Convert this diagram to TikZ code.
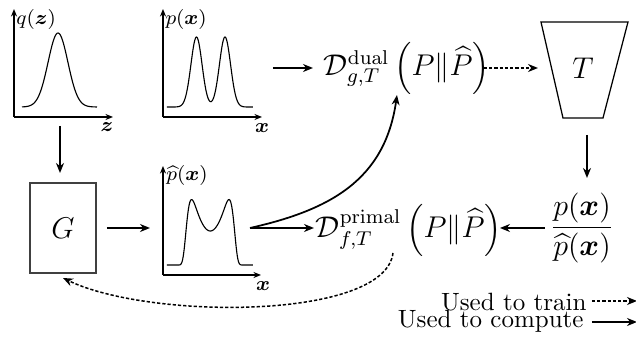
\documentclass[tikz,border=0pt]{standalone}
\usepackage{amsmath,amssymb,bm}
\usetikzlibrary{arrows.meta}
\begin{document}
\begin{tikzpicture}[x=0.4pt,y=-0.4pt,
  arr/.style={line width=0.7pt,-{Stealth[length=4pt,width=3.2pt]}},
  trainarr/.style={line width=0.6pt,dash pattern=on 1.3pt off 0.8pt,-{Stealth[length=4pt,width=3.2pt]}},
  axisarr/.style={line width=0.6pt,-{Stealth[length=3pt,width=2.4pt]}},
  curveline/.style={line width=0.45pt},
  lab/.style={font=\footnotesize,inner sep=0pt},
  bigmath/.style={font=\fontsize{11.6}{14}\selectfont,inner sep=0pt}]
\useasboundingbox (0,0) rectangle (636,339);
% ---- q(z) plot
\coordinate (qo) at (14,117);
\coordinate (qy) at (14,9);
\coordinate (qx) at (113,117);
\draw[axisarr] (qo) -- (qy);
\draw[axisarr] (qo) -- (qx);
\draw[curveline] plot[domain=22:97,samples=90] (\x,{107-74*exp(-((\x-58)^2)/196)});
\node[lab,anchor=west] (ql) at (16,20) {$q(\bm z)$};
\node[lab] (qzl) at (107,127) {$\bm z$};
% ---- p(x) plot
\coordinate (po) at (163,117);
\coordinate (py) at (163,9);
\coordinate (px) at (262,117);
\draw[axisarr] (po) -- (py);
\draw[axisarr] (po) -- (px);
\draw[curveline] plot[domain=167:253,samples=140] (\x,{107-70*exp(-((\x-196.5)^2)/62)-70*exp(-((\x-225)^2)/62)});
\node[lab,anchor=west] (pl) at (165,20) {$p(\bm x)$};
\node[lab] (pxl) at (262,128) {$\bm x$};
% ---- phat(x) plot
\coordinate (ho) at (163,275);
\coordinate (hy) at (163,166);
\coordinate (hx) at (261,275);
\draw[axisarr] (ho) -- (hy);
\draw[axisarr] (ho) -- (hx);
\draw[curveline] plot[domain=167:253,samples=160] (\x,{265-(34+41*((\x-210.3)/18.7)^2)*exp(-min((((\x-210.3)/23.99)^2)^4,50))});
\node[lab,anchor=west] (hl) at (166,176) {$\widehat{p}(\bm x)$};
\node[lab] (hxl) at (263,286) {$\bm x$};
% ---- G box
\node[draw=black!75,line width=0.45pt,minimum width=26.4pt,minimum height=36pt,inner sep=0pt,font=\large] (G) at (63,228) {$G$};
% ---- T trapezoid
\draw[line width=0.5pt] (541,22) -- (628,22) -- (603,118) -- (563,118) -- cycle;
\node[font=\large,inner sep=0pt] (T) at (583,68) {$T$};
% ---- formulas
\node[bigmath] (dual) at (407,68) {$\mathcal{D}^{\mathrm{dual}}_{g,T}\left(P\|\widehat{P}\right)$};
\node[bigmath] (primal) at (409,230) {$\mathcal{D}^{\mathrm{primal}}_{f,T}\left(P\|\widehat{P}\right)$};
\node[font=\large,inner sep=0pt] (ratio) at (582,228) {$\displaystyle\frac{p(\bm x)}{\widehat{p}(\bm x)}$};
% ---- connector end points
\coordinate (qd) at (60,126);
\coordinate (gt) at (60,173);
\coordinate (gr) at (107,228);
\coordinate (hl1) at (150,228);
\coordinate (pr) at (273,68);
\coordinate (dl) at (313,68);
\coordinate (dr) at (484,68);
\coordinate (tl) at (538,68);
\coordinate (tb) at (587,135);
\coordinate (rt) at (587,178);
\coordinate (rl) at (545,228);
\coordinate (prr) at (500,228);
\coordinate (hr) at (250,228);
\coordinate (prl) at (314,228);
\coordinate (db) at (397,95);
\coordinate (prb) at (393,253);
\coordinate (gb) at (63,278);
% ---- connectors
\draw[arr] (qd) -- (gt);
\draw[arr] (gr) -- (hl1);
\draw[arr] (pr) -- (dl);
\draw[trainarr] (dr) -- (tl);
\draw[arr] (tb) -- (rt);
\draw[arr] (rl) -- (prr);
\draw[arr] (hr) -- (prl);
\draw[arr] (hr) .. controls (330,210) and (385,180) .. (db);
\draw[trainarr] (prb) .. controls (385,320) and (150,320) .. (gb);
% ---- legend
\node[anchor=base east,inner sep=0pt] (ltrain) at (587,311) {Used to train};
\node[anchor=base east,inner sep=0pt] (lcomp) at (584,328) {Used to compute};
\coordinate (lt1) at (592,301);
\coordinate (lt2) at (637,301);
\coordinate (lc1) at (592,322);
\coordinate (lc2) at (637,322);
\draw[trainarr] (lt1) -- (lt2);
\draw[arr] (lc1) -- (lc2);
\end{tikzpicture}
\end{document}
